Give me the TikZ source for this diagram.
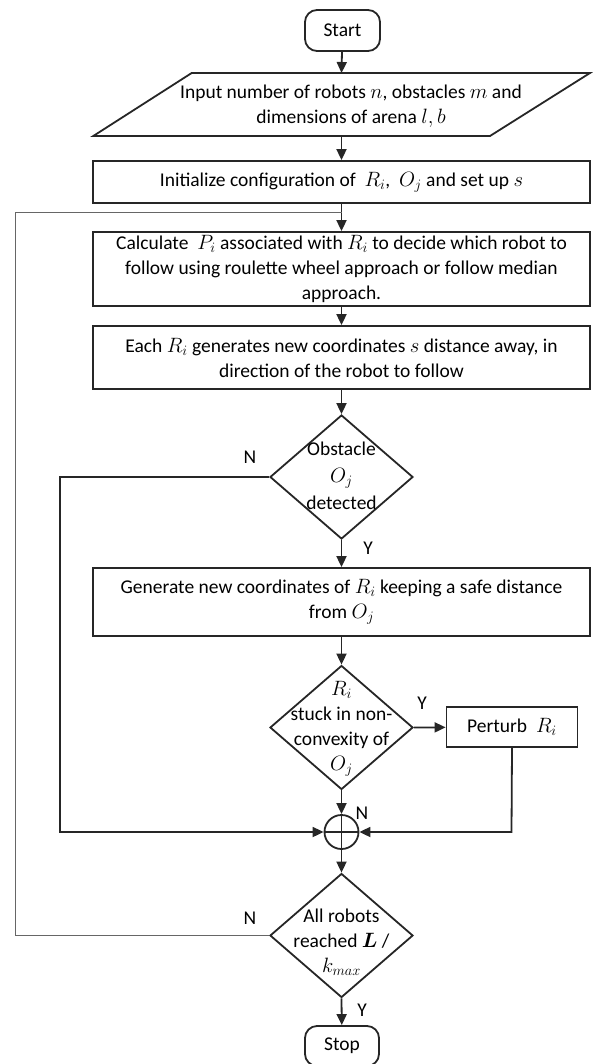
\documentclass[tikz,border=0pt]{standalone}
\usepackage{amsmath}
\usepackage{fontspec}
\setmainfont{Carlito}
\usetikzlibrary{arrows.meta,shapes.geometric}
\begin{document}
\begin{tikzpicture}[x=1pt,y=-1pt,
  every node/.style={font=\fontsize{19.5}{25}\selectfont},
  ln/.style={line width=1.8pt,draw=black!85},
  arr/.style={ln,-{Triangle[length=11pt,width=10pt]}},
  loopln/.style={line width=1.3pt,draw=black!60},
  procbox/.style={ln,rectangle,inner sep=0pt,align=center},
  term/.style={ln,rectangle,rounded corners=12pt,inner sep=0pt},
  dia/.style={ln,diamond,inner sep=0pt,minimum width=143pt,minimum height=124pt},
  lab/.style={inner sep=0pt}]
\useasboundingbox (0,0) rectangle (592,1064);

% Start
\node[term,minimum width=75pt,minimum height=41pt] (start) at (342.5,30.5) {Start};

% input parallelogram
\coordinate (pTL) at (191.7,73);
\coordinate (pTR) at (590,73);
\coordinate (pBR) at (490,136);
\coordinate (pBL) at (93.3,136);
\draw[ln] (pTL) -- (pTR) -- (pBR) -- (pBL) -- cycle;
\node[lab,align=center] (inp) at (351,106) {Input number of robots $n$, obstacles $m$ and\\dimensions of arena $l,b$};
\coordinate (inTop) at (341.5,73);
\coordinate (inBot) at (341.5,136);

% initialize
\node[procbox,minimum width=497pt,minimum height=42pt] (init) at (341.5,182) {Initialize configuration of~ $R_i$,~ $O_j$ and set up $s$};

% calculate
\node[procbox,minimum width=497pt,minimum height=74pt] (calc) at (341.5,269) {Calculate~ $P_i$ associated with $R_i$ to decide which robot to\\follow using roulette wheel approach or follow median\\approach.};

% each
\node[procbox,minimum width=497pt,minimum height=63pt] (each) at (341.5,357.5) {Each $R_i$ generates new coordinates $s$ distance away, in\\direction of the robot to follow};

% diamond 1
\node[dia] (d1) at (341.5,477) {};
\node[lab,align=center] (d1t) at (341.5,476) {Obstacle\\[2pt]$O_j$\\[2pt]detected};

% generate
\node[procbox,minimum width=497pt,minimum height=68pt] (gen) at (341.5,602) {Generate new coordinates of $R_i$ keeping a safe distance\\from $O_j$};

% diamond 2
\node[dia] (d2) at (341.5,727.5) {};
\node[lab,align=center] (d2t) at (341.5,729) {$R_i$\\stuck in non-\\convexity of\\$O_j$};

% perturb
\node[procbox,minimum width=131pt,minimum height=40pt] (pert) at (512,727) {Perturb~ $R_i$};

% sum circle
\node[ln,circle,minimum size=34pt,inner sep=0pt] (sum) at (341.5,832) {};
\draw[ln] (sum.north) -- (sum.south);
\draw[ln] (sum.west) -- (sum.east);

% diamond 3
\node[dia] (d3) at (341.5,935.5) {};
\node[lab,align=center] (d3t) at (341.5,942) {All robots\\reached $\boldsymbol{L}$ /\\$k_{max}$};

% stop
\node[term,minimum width=74pt,minimum height=40pt] (stop) at (342,1046) {Stop};

% connectors
\draw[arr] (start) -- (inTop);
\draw[arr] (inBot) -- (init);
\draw[arr] (init) -- (calc);
\draw[arr] (calc) -- (each);
\draw[arr] (each) -- (d1.north);
\draw[arr] (d1.south) -- (gen);
\draw[arr] (gen) -- (d2.north);
\draw[arr] (d2.east) -- (pert);
\draw[arr] (d2.south) -- (sum);
\coordinate (c1) at (60,477);
\coordinate (c2) at (60,832);
\draw[arr] (d1.west) -- (c1) -- (c2) -- (sum.west);
\coordinate (c3) at (511.5,832);
\draw[arr] (pert.south) -- (c3) -- (sum.east);
\draw[arr] (sum) -- (d3.north);
\draw[arr] (d3.south) -- (stop);
\coordinate (l1) at (15.5,935.5);
\coordinate (l2) at (15.5,212.5);
\coordinate (l3) at (341.5,212.5);
\draw[loopln] (d3.west) -- (l1) -- (l2) -- (l3);

% labels
\node[lab] (n1) at (250,457) {N};
\node[lab] (y1) at (368,548) {Y};
\node[lab] (y2) at (422,703) {Y};
\node[lab] (n2) at (362,813) {N};
\node[lab] (n3) at (250,918) {N};
\node[lab] (y3) at (362,1010) {Y};
\end{tikzpicture}
\end{document}
